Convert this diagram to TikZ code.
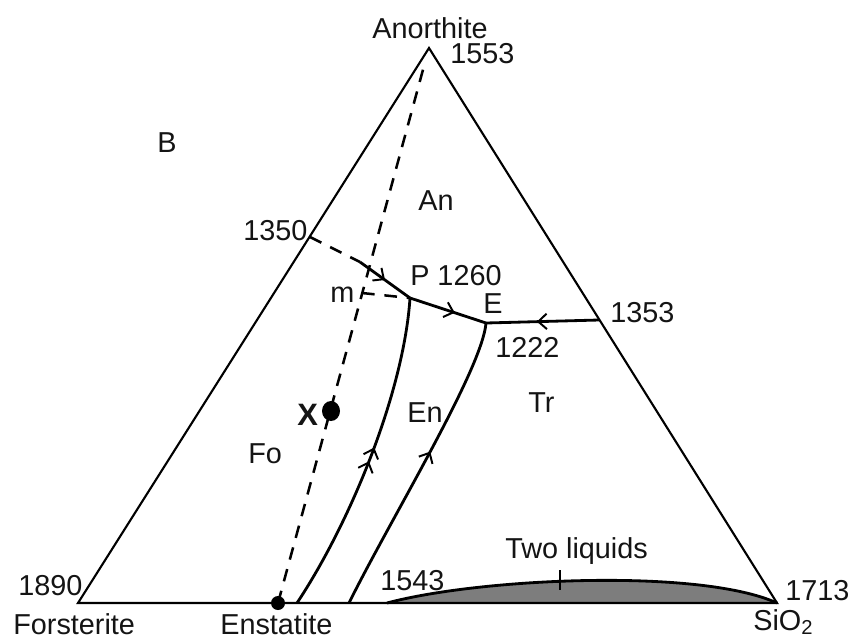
\documentclass[tikz,border=0pt]{standalone}
\usepackage{fontspec}
\setmainfont{Liberation Sans}
\usetikzlibrary{arrows.meta,decorations.markings}

\definecolor{lensfill}{RGB}{125, 125, 125}
\definecolor{phtext}{RGB}{20, 20, 20}

\begin{document}
\begin{tikzpicture}[
  x=0.025cm,
  y=-0.025cm,
  side/.style={draw=black, line width=1.5pt, line join=miter},
  bound/.style={draw=black, line width=2pt},
  meta/.style={draw=black, line width=1.8pt, dash pattern=on 9pt off 7pt},
  lbl/.style={font=\fontsize{20.5}{24}\selectfont, text=phtext, inner sep=0pt, anchor=base west},
  dot/.style={fill=black, draw=none},
  barb/.style={postaction={decorate}, decoration={markings,
    mark=at position #1 with {\arrow{Straight Barb[length=6pt, width=11pt, line width=1.4pt]}}}},
  dblbarb/.style={postaction={decorate}, decoration={markings,
    mark=at position #1 with {\arrow{Straight Barb[length=6pt, width=11pt, line width=1.4pt]}},
    mark=at position #1-0.045 with {\arrow{Straight Barb[length=6pt, width=11pt, line width=1.4pt]}}}}
]
  \useasboundingbox (0, 0) rectangle (848, 640);

  % Corners and points on the sides
  \coordinate (fo) at (78, 603);
  \coordinate (sio) at (777, 603);
  \coordinate (an) at (429, 48);
  \coordinate (antop) at (424, 66);
  \coordinate (en) at (278, 603);
  \coordinate (p1350) at (310, 237);
  \coordinate (p1353) at (599, 320);
  \coordinate (q) at (360, 262);
  \coordinate (P) at (410, 298);
  \coordinate (E) at (486, 323);
  \coordinate (m) at (362, 293);
  \coordinate (b1) at (297, 603);
  \coordinate (b2) at (349, 603);
  \coordinate (l1) at (387, 603);
  \coordinate (tk1) at (560, 570);
  \coordinate (tk2) at (560, 590);

  % Two liquids field
  \fill[lensfill] (l1) .. controls (480, 578) and (700, 568) .. (sio) -- cycle;
  \draw[bound] (l1) .. controls (480, 578) and (700, 568) .. (sio);
  \draw[line width=1.2pt] (tk1) -- (tk2);

  % Triangle
  \draw[side] (fo) -- (an) -- (sio) -- cycle;

  % Join Enstatite - Anorthite
  \draw[meta] (en) -- (antop);
  \draw[meta] (m) -- (P);

  % Boundary curves
  \draw[meta] (p1350) -- (q);
  \draw[bound, barb=0.5] (q) -- (P);
  \draw[bound, barb=0.59] (P) -- (E);
  \draw[bound, barb=0.55] (p1353) -- (E);
  \draw[bound, dblbarb=0.53] (b1) .. controls (352, 520) and (404, 390) .. (P);
  \draw[bound, barb=0.55] (b2) .. controls (390, 520) and (482, 370) .. (E);

  % Points
  \fill[dot] (331, 411) ellipse [x radius=9, y radius=10];
  \fill[dot] (en) circle [radius=7];

  % Labels
  \node[lbl] (tAn) at (372, 38) {Anorthite};
  \node[lbl] (t1553) at (450, 63) {1553};
  \node[lbl] (tB) at (157, 152) {B};
  \node[lbl] (tAnf) at (418, 210) {An};
  \node[lbl] (t1350) at (243, 240) {1350};
  \node[lbl] (tP) at (410, 285) {P 1260};
  \node[lbl] (tE) at (483, 313) {E};
  \node[lbl] (tm) at (330, 302) {m};
  \node[lbl] (t1353) at (610, 322) {1353};
  \node[lbl] (t1222) at (495, 357) {1222};
  \node[lbl] (tTr) at (528, 412) {Tr};
  \node[lbl, font=\fontsize{22}{24}\selectfont\bfseries] (tX) at (297, 425) {X};
  \node[lbl] (tEn) at (407, 422) {En};
  \node[lbl] (tFo) at (248, 463) {Fo};
  \node[lbl] (tTwo) at (505, 558) {Two liquids};
  \node[lbl] (t1543) at (380, 590) {1543};
  \node[lbl] (t1890) at (18, 595) {1890};
  \node[lbl] (t1713) at (785, 600) {1713};
  \node[lbl] (tFors) at (13, 634) {Forsterite};
  \node[lbl] (tEns) at (220, 634) {Enstatite};
  \node[lbl] (tSi) at (753, 630) {SiO\textsubscript{2}};

\end{tikzpicture}
\end{document}
